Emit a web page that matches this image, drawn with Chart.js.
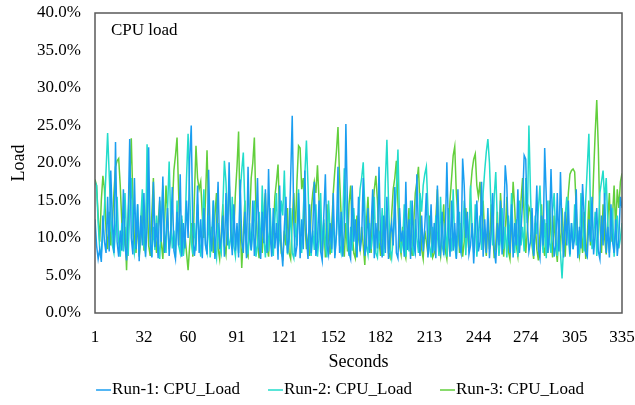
<!DOCTYPE html>
<html>
<head>
<meta charset="utf-8">
<script src="https://cdn.jsdelivr.net/npm/chart.js@4"></script>
<style>
  html, body { margin: 0; padding: 0; background: #fff; }
  canvas { display: block; }
</style>
</head>
<body>
<canvas id="myChart" width="635" height="405"></canvas>
<script>
const seriesNames = ['Run-1: CPU_Load', 'Run-2: CPU_Load', 'Run-3: CPU_Load'];
const seriesColors = ['#1a9ef0', '#22dccb', '#62cf3c'];
const xTickValues = [1, 32, 60, 91, 121, 152, 182, 213, 244, 274, 305, 335];

// CPU load per second, in percent
const run1 = [
  12.5, 9.0, 7.2, 8.5, 6.8, 13.0, 9.5, 8.0, 15.5, 8.2,
  19.0, 12.0, 8.0, 22.8, 9.5, 7.5, 11.0, 8.3, 16.5, 9.0,
  7.0, 12.5, 23.2, 10.0, 7.8, 18.0, 8.5, 14.5, 6.9, 13.0,
  9.0, 16.0, 7.5, 11.5, 22.1, 9.2, 7.4, 17.5, 8.8, 12.0,
  7.3, 15.5, 9.5, 18.2, 8.0, 10.5, 14.0, 7.6, 11.0, 16.8,
  8.3, 7.2, 13.5, 9.0, 18.5, 7.5, 12.0, 8.6, 15.0, 10.0,
  20.5, 25.0, 11.0, 7.6, 9.5, 17.0, 8.0, 12.5, 7.3, 14.0,
  9.2, 7.8, 19.1, 10.5, 8.2, 15.0, 7.2, 11.5, 17.5, 8.5,
  9.8, 13.0, 7.5, 16.0, 9.0, 20.1, 11.0, 7.7, 14.5, 8.3,
  12.0, 7.4, 17.8, 9.5, 8.0, 13.5, 7.3, 19.5, 10.0, 8.4,
  15.0, 7.6, 11.0, 18.0, 8.8, 7.2, 13.5, 9.3, 16.5, 8.0,
  19.2, 10.5, 7.5, 14.0, 8.6, 12.0, 7.1, 17.0, 9.0, 6.2,
  11.5, 15.5, 8.0, 10.0, 18.0, 26.3, 12.0, 7.5, 9.0, 16.0,
  7.3, 12.5, 8.5, 19.0, 10.0, 7.2, 14.5, 8.0, 11.0, 17.5,
  7.6, 9.5, 15.0, 8.2, 7.0, 13.0, 18.5, 9.0, 7.8, 12.0,
  8.5, 16.0, 7.3, 10.5, 19.5, 8.0, 13.5, 7.5, 11.0, 25.2,
  14.0, 8.0, 7.2, 17.0, 9.5, 12.5, 7.4, 15.5, 8.2, 10.0,
  18.0, 7.6, 9.0, 14.0, 8.0, 11.5, 16.5, 7.3, 12.0, 8.6,
  19.5, 9.5, 7.4, 13.0, 8.0, 15.5, 7.2, 10.5, 12.0, 9.0,
  16.8, 8.0, 7.3, 14.0, 9.5, 11.0, 7.5, 17.5, 8.4, 12.5,
  7.2, 15.0, 9.0, 8.0, 18.5, 10.5, 7.6, 13.0, 8.2, 11.5,
  16.0, 7.4, 9.5, 14.5, 8.0, 12.0, 7.3, 17.0, 9.0, 8.0,
  13.5, 7.7, 10.5, 20.1, 11.0, 7.5, 15.0, 8.3, 12.0, 7.2,
  16.5, 9.0, 8.0, 20.6, 17.0, 10.0, 13.5, 7.8, 9.0, 12.0,
  6.6, 11.0, 15.0, 8.2, 9.5, 17.5, 7.5, 12.5, 8.0, 14.0,
  7.3, 10.5, 16.0, 8.5, 6.6, 12.0, 9.0, 15.0, 7.8, 11.5,
  19.7, 17.0, 10.0, 8.0, 14.5, 7.4, 12.0, 9.0, 16.5, 8.0,
  11.0, 15.0, 21.0, 20.5, 12.0, 8.2, 9.5, 14.0, 7.6, 11.0,
  17.0, 8.5, 7.3, 13.0, 9.0, 22.0, 15.5, 8.0, 10.5, 19.2,
  12.0, 7.5, 9.0, 16.0, 8.2, 18.8, 11.0, 7.4, 13.5, 9.0,
  15.0, 7.8, 12.0, 8.5, 10.0, 16.5, 7.3, 11.5, 8.6, 17.2,
  13.0, 8.0, 7.5, 12.5, 9.5, 15.5, 7.8, 10.5, 14.0, 8.2,
  7.2, 13.0, 9.0, 16.0, 8.0, 11.5, 7.4, 14.5, 9.5, 8.0,
  12.5, 7.6, 10.0, 15.5, 14.0
];

const run2 = [
  17.5, 17.0, 12.0, 8.5, 8.0, 10.5, 14.0, 19.0, 24.0, 18.5,
  13.0, 9.0, 8.0, 11.0, 15.5, 9.5, 7.5, 12.0, 8.2, 16.0,
  10.0, 7.6, 13.5, 18.0, 11.0, 8.0, 9.5, 14.5, 7.8, 12.5,
  16.5, 9.0, 8.0, 22.5, 15.0, 10.0, 7.5, 11.5, 8.4, 13.0,
  9.5, 7.2, 12.0, 17.0, 10.5, 8.0, 14.0, 20.2, 12.5, 8.6,
  11.0, 7.4, 15.0, 9.0, 8.0, 13.0, 7.6, 10.5, 18.0, 23.9,
  16.0, 9.5, 7.8, 12.0, 8.3, 14.5, 10.0, 7.5, 11.5, 16.5,
  9.0, 8.0, 13.0, 7.4, 10.5, 15.0, 8.6, 7.3, 12.0, 9.0,
  8.0, 14.0, 20.3, 17.5, 12.0, 8.5, 10.0, 15.5, 9.0, 7.6,
  11.5, 8.0, 16.0, 19.0, 21.4, 14.0, 9.5, 7.8, 12.0, 8.3,
  10.5, 15.0, 7.5, 9.0, 13.5, 8.0, 17.0, 10.0, 7.4, 11.5,
  8.2, 14.0, 9.0, 7.6, 12.5, 16.0, 8.5, 10.0, 15.0, 13.0,
  19.0, 11.0, 7.8, 9.5, 14.0, 8.0, 7.3, 12.0, 9.0, 16.5,
  10.5, 8.0, 13.5, 18.5, 23.0, 17.0, 9.5, 7.6, 11.0, 8.4,
  14.5, 7.5, 10.0, 16.0, 8.2, 12.5, 9.0, 7.4, 15.0, 11.0,
  8.0, 13.0, 7.7, 10.5, 14.5, 9.0, 8.0, 12.0, 19.3, 15.0,
  9.5, 7.6, 11.5, 8.3, 14.0, 10.0, 7.5, 13.0, 16.5, 18.0,
  20.1, 14.0, 9.0, 7.8, 12.0, 8.5, 10.5, 15.5, 8.0, 7.4,
  11.0, 9.0, 14.0, 7.6, 17.5, 23.1, 15.0, 8.5, 7.3, 10.0,
  13.0, 16.5, 21.8, 12.5, 8.0, 9.5, 14.5, 7.5, 11.0, 8.2,
  15.0, 9.0, 7.6, 12.5, 10.0, 8.0, 16.0, 13.5, 17.0, 18.5,
  19.5, 14.0, 9.0, 7.4, 11.5, 8.3, 13.0, 10.5, 7.6, 15.5,
  9.0, 8.0, 12.0, 7.5, 14.0, 10.5, 8.2, 16.5, 9.0, 7.3,
  11.0, 13.5, 8.0, 10.0, 15.0, 7.7, 12.5, 9.0, 17.0, 11.0,
  8.0, 14.5, 7.5, 10.5, 13.0, 8.4, 16.0, 19.0, 21.5, 23.2,
  20.0, 14.0, 9.0, 15.5, 18.8, 12.0, 7.6, 10.0, 14.0, 8.5,
  11.5, 7.4, 13.0, 9.5, 16.0, 10.0, 8.0, 12.5, 7.5, 15.0,
  9.0, 11.5, 8.2, 18.0, 12.0, 25.0, 16.0, 9.5, 7.8, 13.0,
  10.5, 14.0, 17.0, 11.0, 8.0, 12.5, 7.3, 15.0, 9.5, 8.0,
  13.5, 16.0, 10.0, 7.6, 11.5, 8.0, 4.6, 9.0, 13.0, 15.5,
  10.0, 7.5, 12.0, 8.5, 14.5, 9.0, 11.0, 7.8, 16.0, 12.0,
  8.2, 15.0, 19.5, 23.9, 14.0, 8.5, 10.0, 13.5, 7.6, 11.0,
  16.0, 17.5, 19.0, 15.0, 18.0, 12.0, 8.0, 10.5, 14.0, 7.5,
  11.0, 13.0, 8.6, 10.0, 12.0
];

const run3 = [
  17.8, 17.0, 13.0, 9.5, 15.0, 18.3, 16.5, 11.0, 8.5, 13.5,
  9.0, 12.0, 16.0, 19.5, 20.3, 20.6, 17.0, 12.0, 9.0, 11.5,
  5.7, 13.0, 17.5, 23.3, 15.0, 9.5, 8.0, 12.5, 7.5, 10.0,
  14.5, 8.3, 11.0, 16.5, 9.0, 7.6, 13.0, 18.0, 10.5, 8.0,
  12.0, 15.0, 9.5, 7.2, 11.5, 17.0, 13.0, 8.5, 10.0, 14.0,
  19.0, 21.0, 23.4, 16.0, 9.0, 12.5, 7.8, 10.5, 8.0, 5.7,
  9.0, 12.0, 7.5, 15.5, 22.3, 18.0, 16.5, 17.5, 13.0, 10.0,
  15.0, 21.7, 14.0, 9.0, 11.5, 8.0, 13.0, 16.0, 8.6, 7.2,
  10.5, 14.5, 9.0, 7.8, 12.0, 17.5, 13.0, 8.5, 11.0, 16.0,
  19.5, 24.2, 12.0, 6.0, 10.5, 15.0, 8.0, 7.5, 12.5, 18.0,
  20.0, 23.4, 14.0, 9.5, 7.3, 11.0, 8.0, 13.5, 16.0, 9.0,
  7.5, 12.0, 8.5, 10.5, 15.5, 17.5, 19.8, 13.0, 8.0, 7.4,
  11.0, 9.0, 14.0, 8.0, 7.2, 12.5, 16.0, 10.5, 17.5, 22.3,
  22.0, 16.5, 18.0, 12.0, 8.5, 10.0, 7.6, 13.5, 16.0, 17.5,
  16.0, 19.7, 15.0, 10.5, 8.0, 12.0, 7.4, 14.5, 9.5, 7.8,
  11.5, 16.0, 19.0, 21.5, 24.8, 18.0, 13.0, 9.0, 7.5, 12.0,
  8.2, 14.5, 17.0, 11.0, 8.0, 7.3, 13.0, 10.0, 8.5, 11.5,
  9.0, 6.4, 12.0, 15.5, 10.0, 8.0, 13.5, 16.5, 18.3, 15.0,
  9.5, 7.6, 12.5, 8.5, 11.0, 14.0, 8.0, 7.4, 13.0, 16.5,
  18.0, 20.3, 14.5, 9.0, 7.8, 11.5, 8.2, 7.3, 10.5, 14.0,
  9.0, 7.6, 12.0, 16.0, 17.5, 19.5, 14.0, 8.5, 7.2, 11.0,
  9.5, 7.8, 13.0, 10.0, 7.4, 8.0, 12.5, 16.5, 9.0, 7.6,
  11.0, 14.5, 8.3, 7.2, 10.5, 15.0, 18.0, 21.0, 22.2, 16.0,
  13.0, 8.0, 12.0, 7.5, 9.5, 14.0, 11.0, 8.2, 16.5, 19.0,
  20.5, 21.2, 17.0, 15.5, 17.5, 13.0, 15.0, 10.0, 7.6, 12.0,
  8.5, 14.5, 11.0, 7.3, 9.0, 13.5, 8.0, 16.0, 12.0, 7.5,
  10.5, 15.5, 8.2, 7.2, 12.0, 17.5, 14.0, 9.0, 7.6, 11.5,
  15.0, 18.0, 13.0, 8.0, 11.0, 14.1, 13.5, 9.0, 7.2, 12.0,
  8.5, 7.0, 10.5, 14.5, 9.0, 7.6, 12.0, 8.0, 15.0, 10.5,
  7.4, 13.0, 9.0, 6.8, 11.5, 8.2, 14.0, 10.0, 7.5, 12.5,
  16.0, 18.5, 19.0, 19.2, 18.8, 14.0, 9.0, 7.6, 11.0, 8.0,
  13.5, 7.2, 10.0, 15.0, 9.0, 12.0, 18.5, 24.0, 28.4, 22.0,
  12.0, 8.0, 14.5, 10.0, 7.8, 12.5, 16.0, 9.5, 13.0, 17.0,
  11.0, 16.5, 14.0, 17.5, 18.6
];

const FONT = 'Liberation Serif, Times New Roman, serif';
const toPoints = arr => arr.map((v, i) => ({ x: i + 1, y: v }));

// box around the plot area, the "CPU load" caption and the legend row
const frame = {
  id: 'frame',
  afterDatasetsDraw(chart) {
    const { ctx, chartArea: a } = chart;
    ctx.save();
    ctx.strokeStyle = '#595959';
    ctx.lineWidth = 1.5;
    ctx.strokeRect(a.left, a.top, a.right - a.left, a.bottom - a.top);
    ctx.fillStyle = '#000';
    ctx.font = '17px ' + FONT;
    ctx.textBaseline = 'middle';
    ctx.fillText('CPU load', a.left + 16, a.top + 18);

    // legend: short line then name, in one row under the axis title
    const lineLen = 15, gap = 28, y = 390, centre = 340;
    const widths = chart.data.datasets.map(ds => lineLen + 1 + ctx.measureText(ds.label).width);
    const total = widths.reduce((s, w) => s + w, 0) + gap * (widths.length - 1);
    let x = centre - total / 2;
    chart.data.datasets.forEach((ds, i) => {
      ctx.strokeStyle = ds.borderColor;
      ctx.lineWidth = 1.5;
      ctx.beginPath();
      ctx.moveTo(x, y);
      ctx.lineTo(x + lineLen, y);
      ctx.stroke();
      ctx.fillStyle = '#000';
      ctx.fillText(ds.label, x + lineLen + 1, y);
      x += widths[i] + gap;
    });
    ctx.restore();
  }
};

const ctx = document.getElementById('myChart');
const myChart = new Chart(ctx, {
  type: 'line',
  data: {
    datasets: [run1, run2, run3].map((d, i) => ({
      label: seriesNames[i],
      data: toPoints(d),
      borderColor: seriesColors[i],
      backgroundColor: seriesColors[i],
      borderWidth: 1.5,
      pointRadius: 0,
      tension: 0,
      fill: false
    }))
  },
  options: {
    responsive: false,
    animation: false,
    layout: { padding: { top: 13, right: 13, left: 0, bottom: 0 } },
    plugins: {
      tooltip: { enabled: false },
      legend: { display: false }
    },
    scales: {
      x: {
        type: 'linear',
        min: 1,
        max: 335,
        grid: { display: false, drawTicks: false },
        border: { display: false },
        afterBuildTicks(scale) {
          scale.ticks = xTickValues.map(v => ({ value: v }));
        },
        afterFit(scale) {
          scale.height = 405 - 313;
          scale.paddingLeft = 0;
          scale.paddingRight = 0;
        },
        ticks: {
          autoSkip: false,
          maxRotation: 0,
          padding: 14,
          color: '#000',
          font: { family: FONT, size: 17 }
        },
        title: {
          display: true,
          text: 'Seconds',
          color: '#000',
          font: { family: FONT, size: 18 },
          padding: { top: 0, bottom: 32 }
        }
      },
      y: {
        min: 0,
        max: 40,
        grid: { display: false, drawTicks: false },
        border: { display: false },
        afterFit(scale) {
          scale.width = 95;
          scale.paddingTop = 0;
          scale.paddingBottom = 0;
        },
        ticks: {
          stepSize: 5,
          padding: 14,
          color: '#000',
          font: { family: FONT, size: 17 },
          callback: v => v.toFixed(1) + '%'
        },
        title: {
          display: true,
          text: 'Load',
          color: '#000',
          font: { family: FONT, size: 18 },
          padding: { top: 8, bottom: 0 }
        }
      }
    }
  },
  plugins: [frame]
});
</script>
</body>
</html>
